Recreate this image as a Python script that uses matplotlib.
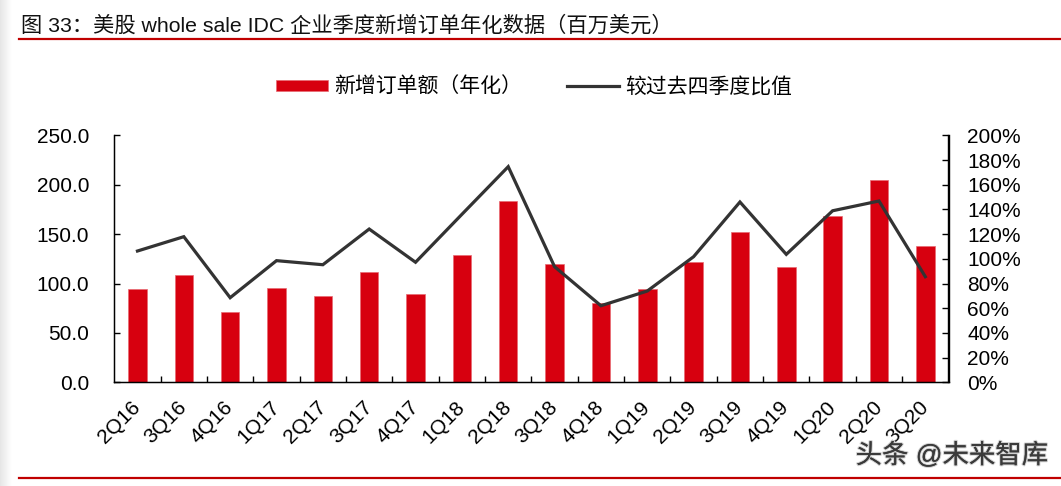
"""Gráfico: nuevos pedidos anualizados de empresas IDC mayoristas (EE. UU.).

Barras = importe anualizado (millones USD, eje izquierdo);
línea = ratio frente a los cuatro trimestres anteriores (eje derecho).
Salida: out.png (1061x486).
"""
from __future__ import annotations

import matplotlib

matplotlib.use("Agg")
import matplotlib.pyplot as plt
import matplotlib.patheffects as pe
import numpy as np
from matplotlib.lines import Line2D
from matplotlib.ticker import FuncFormatter, MultipleLocator

plt.rcParams["font.family"] = ["Liberation Sans", "Noto Sans CJK SC", "DejaVu Sans"]

QUARTERS = [
    "2Q16", "3Q16", "4Q16", "1Q17", "2Q17", "3Q17", "4Q17", "1Q18", "2Q18",
    "3Q18", "4Q18", "1Q19", "2Q19", "3Q19", "4Q19", "1Q20", "2Q20", "3Q20",
]
NEW_ORDERS = [
    94.1, 108.3, 70.9, 95.1, 87.3, 112.0, 89.4, 129.2, 183.2,
    119.7, 80.3, 94.4, 121.8, 151.8, 116.4, 168.3, 204.8, 137.6,
]
RATIO_PCT = [
    106.3, 117.9, 68.5, 98.5, 95.2, 124.1, 97.2, 136.0, 174.6,
    93.6, 62.0, 73.9, 101.7, 146.0, 103.6, 138.9, 146.8, 85.5,
]

TITLE = "图 33：美股 whole sale IDC 企业季度新增订单年化数据（百万美元）"
BAR_LABEL = "新增订单额（年化）"
LINE_LABEL = "较过去四季度比值"
WATERMARK = "头条 @未来智库"

BAR_COLOR = "#D7000F"
LINE_COLOR = "#333333"
RULE_COLOR = "#C00000"
FONT_SIZE = 15

W, H = 1061, 486


def main() -> int:
    fig = plt.figure(figsize=(W / 100, H / 100), dpi=100)

    # degradado gris en el borde izquierdo
    grad = fig.add_axes([0, 0, 12 / W, 1])
    grad.imshow(np.linspace(0.90, 1.0, 64)[None, :], cmap="gray", vmin=0, vmax=1,
                aspect="auto", extent=[0, 1, 0, 1])
    grad.set_axis_off()

    ax = fig.add_axes([114.3 / W, 1 - 382.3 / H, (948.5 - 114.3) / W, (382.3 - 135.3) / H])
    x = np.arange(len(QUARTERS))
    ax.bar(x, NEW_ORDERS, width=0.4, color=BAR_COLOR, edgecolor="#E86A73",
           linewidth=0.5, label=BAR_LABEL, zorder=2)
    ax.set_xlim(-0.5, len(QUARTERS) - 0.5)
    ax.set_ylim(0, 250)
    ax.yaxis.set_major_locator(MultipleLocator(50))
    ax.yaxis.set_major_formatter(FuncFormatter(lambda v, _: f"{v:.1f}"))
    ax.set_xticks(x)
    ax.set_xticklabels(QUARTERS, rotation=45, ha="right", va="center",
                       rotation_mode="anchor")
    ax.set_xticks(np.arange(0.5, len(QUARTERS) - 0.5, 1), minor=True)
    ax.tick_params(axis="x", which="major", length=0, pad=16, labelsize=FONT_SIZE)
    ax.tick_params(axis="x", which="minor", direction="in", length=4.5, width=1)
    ax.tick_params(axis="y", direction="in", length=4, width=1, pad=18,
                   labelsize=FONT_SIZE)
    ax.spines["top"].set_visible(False)
    for side in ("left", "bottom", "right"):
        ax.spines[side].set_linewidth(1.0)

    ax2 = ax.twinx()
    ax2.plot(x, RATIO_PCT, color=LINE_COLOR, linewidth=2.3,
             solid_joinstyle="miter", label=LINE_LABEL, zorder=3)
    ax2.set_ylim(0, 200)
    ax2.yaxis.set_major_locator(MultipleLocator(20))
    ax2.yaxis.set_major_formatter(FuncFormatter(lambda v, _: f"{v:.0f}%"))
    ax2.tick_params(axis="y", direction="in", length=4, width=1, pad=13.5,
                    labelsize=FONT_SIZE)
    ax2.spines["top"].set_visible(False)
    ax2.spines["right"].set_linewidth(1.0)

    handles = [ax.patches[0], ax2.lines[0]]
    fig.legend(handles, [BAR_LABEL, LINE_LABEL], loc="center",
               bbox_to_anchor=(534 / W, 1 - 87 / H), ncol=2, frameon=False,
               fontsize=FONT_SIZE, handlelength=2.5, handleheight=0.48,
               handletextpad=0.25, columnspacing=2.2)

    # título y reglas rojas
    fig.text(21 / W, 1 - 25.5 / H, TITLE, fontsize=15.3, color="#111111",
             ha="left", va="center")
    for y in (39.5, 477.7):
        fig.add_artist(Line2D([19 / W, 1], [1 - y / H] * 2, transform=fig.transFigure,
                              color=RULE_COLOR, linewidth=1.6))

    fig.text(1048 / W, 1 - 455 / H, WATERMARK, fontsize=19, color="#3a3a3a",
             ha="right", va="center",
             path_effects=[pe.withStroke(linewidth=1.6, foreground="#d0d0d0"), pe.Normal()])

    fig.savefig("out.png", dpi=100)
    plt.close(fig)
    return 0


if __name__ == "__main__":
    raise SystemExit(main())
